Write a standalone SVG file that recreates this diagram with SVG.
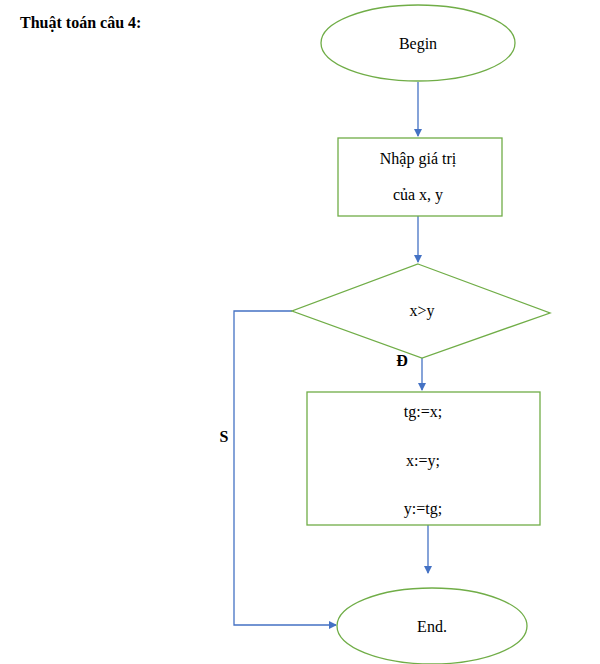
<svg xmlns="http://www.w3.org/2000/svg" width="600" height="664" viewBox="0 0 600 664">
<style>
.n{fill:#fff;stroke:#70ad47;stroke-width:1.3}
.t{font-family:"Liberation Serif",serif;font-size:16px;fill:#000;text-anchor:middle}
.b{font-weight:bold}
.c{fill:none;stroke:#4472c4;stroke-width:1.3}
</style>
<defs><marker id="a" markerWidth="8" markerHeight="8" refX="7" refY="4" orient="auto" markerUnits="userSpaceOnUse"><path d="M0,0L8,4L0,8z" fill="#4472c4"/></marker></defs>
<rect width="600" height="664" fill="#fff"/>
<text x="20" y="28" class="t b" style="text-anchor:start">Thuật toán câu 4:</text>
<g id="connectors">
<path class="c" d="M418,82V136" marker-end="url(#a)"/>
<path class="c" d="M418,216V262" marker-end="url(#a)"/>
<path class="c" d="M422,358V390" marker-end="url(#a)"/>
<path class="c" d="M428,525V573" marker-end="url(#a)"/>
<path class="c" d="M292,311H234V625H336" marker-end="url(#a)"/>
<text x="402" y="366" class="t b">Đ</text>
<text x="224" y="442" class="t b">S</text>
</g>
<g id="begin"><ellipse class="n" cx="418" cy="43" rx="97" ry="38"/><text x="418" y="49" class="t">Begin</text></g>
<g id="input"><rect class="n" x="338" y="138" width="164" height="78"/><text x="418" y="164" class="t">Nhập giá trị</text><text x="418" y="200" class="t">của x, y</text></g>
<g id="cond"><polygon class="n" points="418,264 550,313 422,358 292,311"/><text x="422" y="316" class="t">x&gt;y</text></g>
<g id="swap"><rect class="n" x="307" y="392" width="233" height="133"/><text x="423" y="417" class="t">tg:=x;</text><text x="423" y="466" class="t">x:=y;</text><text x="423" y="514" class="t">y:=tg;</text></g>
<g id="end"><ellipse class="n" cx="432" cy="626" rx="95" ry="38"/><text x="432" y="632" class="t">End.</text></g>
</svg>
